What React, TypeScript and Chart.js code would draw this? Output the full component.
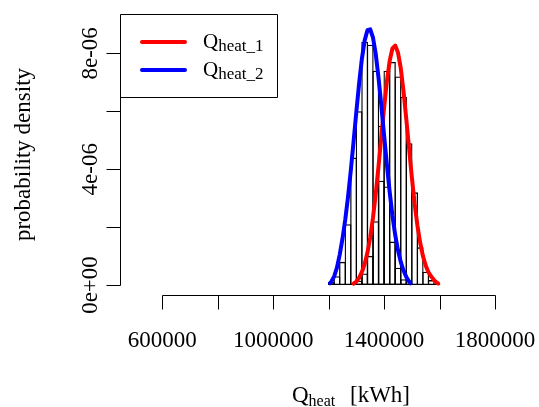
import React, { useEffect, useRef } from 'react';
import { Chart, registerables } from 'chart.js';

Chart.register(...registerables);

// Histogram of Q_heat_1 (bin mid-points, 20000 kWh bins) and its densities
const histMids1 = [1290000, 1310000, 1330000, 1350000, 1370000, 1390000, 1410000, 1430000, 1450000, 1470000, 1490000, 1510000, 1530000, 1550000, 1570000, 1590000];
const histDensity1 = [0.05e-6, 0.15e-6, 0.4e-6, 1.0e-6, 2.2e-6, 3.6e-6, 7.4e-6, 7.7e-6, 7.2e-6, 6.5e-6, 4.9e-6, 3.2e-6, 1.3e-6, 0.46e-6, 0.17e-6, 0.05e-6];

// Histogram of Q_heat_2
const histMids2 = [1210000, 1230000, 1250000, 1270000, 1290000, 1310000, 1330000, 1350000, 1370000, 1390000, 1410000, 1430000, 1450000, 1470000, 1490000];
const histDensity2 = [0.1e-6, 0.3e-6, 0.8e-6, 2.1e-6, 4.4e-6, 6.0e-6, 8.4e-6, 8.3e-6, 7.4e-6, 5.5e-6, 3.4e-6, 1.5e-6, 0.6e-6, 0.2e-6, 0.05e-6];

// Density curve of Q_heat_1 (red)
const curveX1 = [1290000, 1300000, 1310000, 1320000, 1330000, 1340000, 1350000, 1360000, 1370000, 1380000, 1390000, 1400000, 1410000, 1420000, 1430000, 1440000, 1450000, 1460000, 1470000, 1480000, 1490000, 1500000, 1510000, 1520000, 1530000, 1540000, 1550000, 1560000, 1570000, 1580000, 1590000, 1595000];
const curveY1 = [0.05e-6, 0.12e-6, 0.25e-6, 0.45e-6, 0.73e-6, 1.12e-6, 1.65e-6, 2.33e-6, 3.16e-6, 4.11e-6, 5.12e-6, 6.13e-6, 7.03e-6, 7.74e-6, 8.17e-6, 8.27e-6, 8.03e-6, 7.49e-6, 6.69e-6, 5.73e-6, 4.72e-6, 3.72e-6, 2.81e-6, 2.06e-6, 1.46e-6, 1.0e-6, 0.67e-6, 0.44e-6, 0.29e-6, 0.17e-6, 0.08e-6, 0.05e-6];

// Density curve of Q_heat_2 (blue)
const curveX2 = [1205000, 1210000, 1220000, 1230000, 1240000, 1250000, 1260000, 1270000, 1280000, 1290000, 1300000, 1310000, 1320000, 1330000, 1340000, 1350000, 1360000, 1370000, 1380000, 1390000, 1400000, 1410000, 1420000, 1430000, 1440000, 1450000, 1460000, 1470000, 1480000, 1490000, 1495000];
const curveY2 = [0.06e-6, 0.12e-6, 0.3e-6, 0.6e-6, 1.05e-6, 1.6e-6, 2.26e-6, 3.05e-6, 3.96e-6, 4.96e-6, 5.99e-6, 6.97e-6, 7.82e-6, 8.45e-6, 8.8e-6, 8.83e-6, 8.54e-6, 7.97e-6, 7.15e-6, 6.19e-6, 5.17e-6, 4.16e-6, 3.22e-6, 2.4e-6, 1.73e-6, 1.2e-6, 0.8e-6, 0.5e-6, 0.28e-6, 0.12e-6, 0.06e-6];

const xTickValues = [600000, 800000, 1000000, 1200000, 1400000, 1600000, 1800000];
const xTickLabels = ['600000', '', '1000000', '', '1400000', '', '1800000'];
const yTickValues = [0, 2e-6, 4e-6, 6e-6, 8e-6];
const yTickLabels = ['0e+00', '', '4e-06', '', '8e-06'];
const legendSubs = ['heat_1', 'heat_2'];
const legendColors = ['#ff0000', '#0000ff'];

const SERIF = '"Liberation Serif", "Times New Roman", serif';

const rAxesPlugin = {
  id: 'rAxes',
  afterDraw(chart: any) {
    const ctx = chart.ctx as CanvasRenderingContext2D;
    const xs = chart.scales.x;
    const ys = chart.scales.y;
    const area = chart.chartArea;
    ctx.save();
    ctx.strokeStyle = '#000';
    ctx.fillStyle = '#000';
    ctx.lineWidth = 1;
    const tickLen = 14;

    // x axis
    const ax = Math.round(area.bottom) + 0.5;
    const xa = Math.round(xs.getPixelForValue(xTickValues[0])) + 0.5;
    const xb = Math.round(xs.getPixelForValue(xTickValues[xTickValues.length - 1])) + 0.5;
    ctx.beginPath();
    ctx.moveTo(xa, ax);
    ctx.lineTo(xb, ax);
    xTickValues.forEach((v) => {
      const p = Math.round(xs.getPixelForValue(v)) + 0.5;
      ctx.moveTo(p, ax);
      ctx.lineTo(p, ax + tickLen);
    });
    ctx.stroke();
    ctx.font = '23px ' + SERIF;
    ctx.textAlign = 'center';
    ctx.textBaseline = 'alphabetic';
    xTickValues.forEach((v, i) => {
      if (!xTickLabels[i]) return;
      ctx.fillText(xTickLabels[i], xs.getPixelForValue(v), 347);
    });

    // y axis
    const ay = Math.round(area.left) + 0.5;
    const ya = Math.round(ys.getPixelForValue(yTickValues[0])) + 0.5;
    const yb = Math.round(ys.getPixelForValue(yTickValues[yTickValues.length - 1])) + 0.5;
    ctx.beginPath();
    ctx.moveTo(ay, ya);
    ctx.lineTo(ay, yb);
    yTickValues.forEach((v) => {
      const p = Math.round(ys.getPixelForValue(v)) + 0.5;
      ctx.moveTo(ay, p);
      ctx.lineTo(ay - tickLen, p);
    });
    ctx.stroke();
    yTickValues.forEach((v, i) => {
      if (!yTickLabels[i]) return;
      ctx.save();
      ctx.translate(97, ys.getPixelForValue(v));
      ctx.rotate(-Math.PI / 2);
      ctx.fillText(yTickLabels[i], 0, 0);
      ctx.restore();
    });

    // y title
    ctx.save();
    ctx.translate(30, (area.top + area.bottom) / 2);
    ctx.rotate(-Math.PI / 2);
    ctx.fillText('probability density', 0, 0);
    ctx.restore();

    // x title: Q_heat  [kWh]
    ctx.textAlign = 'left';
    ctx.font = '23px ' + SERIF;
    ctx.fillText('Q', 292, 402);
    const qw = ctx.measureText('Q').width;
    ctx.font = '16px ' + SERIF;
    ctx.fillText('heat', 292 + qw, 406);
    ctx.font = '23px ' + SERIF;
    ctx.fillText('[kWh]', 350, 402);

    // legend
    const lx = Math.round(area.left) + 0.5;
    const ly = Math.round(area.top) + 0.5;
    ctx.beginPath();
    ctx.rect(lx, ly, 157, 83);
    ctx.stroke();
    legendSubs.forEach((s, i) => {
      const rowY = 42 + i * 28;
      ctx.strokeStyle = legendColors[i];
      ctx.lineWidth = 4;
      ctx.lineCap = 'round';
      ctx.beginPath();
      ctx.moveTo(142, rowY);
      ctx.lineTo(185, rowY);
      ctx.stroke();
      ctx.fillStyle = '#000';
      ctx.font = '21px ' + SERIF;
      ctx.fillText('Q', 203, rowY + 6);
      const w = ctx.measureText('Q').width;
      ctx.font = '17px ' + SERIF;
      ctx.fillText(s, 203 + w, rowY + 9);
    });
    ctx.restore();
  },
};

export default function App() {
  const ref = useRef<HTMLCanvasElement | null>(null);
  useEffect(() => {
    if (!ref.current) return;
    const barStyle = {
      type: 'bar',
      backgroundColor: 'rgba(0,0,0,0)',
      borderColor: '#000',
      borderWidth: 1.3,
      borderSkipped: false,
      barPercentage: 1.235,
      categoryPercentage: 1,
      grouped: false,
    };
    const chart = new Chart(ref.current, {
      type: 'bar',
      data: {
        datasets: [
          {
            type: 'line',
            label: 'Q_heat_2',
            data: curveX2.map((x, i) => ({ x, y: curveY2[i] })),
            borderColor: '#0000ff',
            borderWidth: 4,
            pointRadius: 0,
            borderCapStyle: 'round',
            borderJoinStyle: 'round',
            fill: false,
            order: 0,
          } as any,
          {
            type: 'line',
            label: 'Q_heat_1',
            data: curveX1.map((x, i) => ({ x, y: curveY1[i] })),
            borderColor: '#ff0000',
            borderWidth: 4,
            pointRadius: 0,
            borderCapStyle: 'round',
            borderJoinStyle: 'round',
            fill: false,
            order: 1,
          } as any,
          {
            ...barStyle,
            label: 'hist1',
            data: histMids1.map((x, i) => ({ x, y: histDensity1[i] })),
            order: 3,
          } as any,
          {
            ...barStyle,
            label: 'hist2',
            data: histMids2.map((x, i) => ({ x, y: histDensity2[i] })),
            order: 2,
          } as any,
        ],
      },
      options: {
        animation: false,
        responsive: false,
        devicePixelRatio: 1,
        layout: { padding: { left: 120, right: 29.5, top: 14, bottom: 112 } },
        scales: {
          x: { type: 'linear', min: 448000, max: 1852000, display: false, offset: false },
          y: { type: 'linear', min: -0.345e-6, max: 9.36e-6, display: false },
        },
        plugins: {
          legend: { display: false },
          tooltip: { enabled: false },
        },
      },
      plugins: [rAxesPlugin],
    });
    return () => chart.destroy();
  }, []);
  return (
    <div style={{ position: 'absolute', left: 0, top: 0, width: 539, height: 407, background: '#fff' }}>
      <canvas ref={ref} width={539} height={407} />
    </div>
  );
}
